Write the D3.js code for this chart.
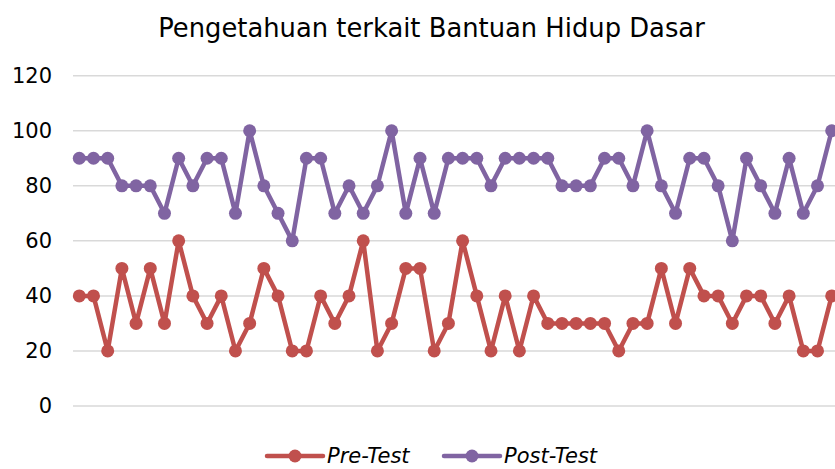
<!DOCTYPE html>
<html>
<head>
<meta charset="utf-8">
<script src="https://cdn.jsdelivr.net/npm/d3@7"></script>
<style>
  body { margin: 0; background: #fff; }
  text { font-family: "DejaVu Sans", sans-serif; fill: #000; }
</style>
</head>
<body>
<div id="chart"></div>
<script>
const title = "Pengetahuan terkait Bantuan Hidup Dasar";
const yTicks = [0, 20, 40, 60, 80, 100, 120];
const seriesNames = ["Pre-Test", "Post-Test"];
const preTest = [40, 40, 20, 50, 30, 50, 30, 60, 40, 30, 40, 20, 30, 50, 40, 20, 20, 40, 30, 40,
  60, 20, 30, 50, 50, 20, 30, 60, 40, 20, 40, 20, 40, 30, 30, 30, 30, 30, 20, 30,
  30, 50, 30, 50, 40, 40, 30, 40, 40, 30, 40, 20, 20, 40];
const postTest = [90, 90, 90, 80, 80, 80, 70, 90, 80, 90, 90, 70, 100, 80, 70, 60, 90, 90, 70, 80,
  70, 80, 100, 70, 90, 70, 90, 90, 90, 80, 90, 90, 90, 90, 80, 80, 80, 90, 90, 80,
  100, 80, 70, 90, 90, 80, 60, 90, 80, 70, 90, 70, 80, 100];

const svgWidth = 835,
  svgHeight = 469,
  colors = ["#C0504D", "#8064A2"];

const svg = d3
  .select("#chart")
  .append("svg")
  .attr("width", svgWidth)
  .attr("height", svgHeight);

const x = d3
  .scaleBand()
  .domain(d3.range(preTest.length))
  .range([72.2, 838.8]);
const y = d3.scaleLinear().domain([0, 120]).range([406, 75.7]);

// title
svg
  .append("text")
  .attr("x", 431.5)
  .attr("y", 37)
  .attr("text-anchor", "middle")
  .style("font-size", "25.8px")
  .text(title);

// gridlines
svg
  .append("g")
  .attr("class", "grid")
  .selectAll("line")
  .data(yTicks)
  .enter()
  .append("line")
  .attr("x1", 73)
  .attr("x2", svgWidth)
  .attr("y1", d => y(d))
  .attr("y2", d => y(d))
  .attr("stroke", "#D9D9D9")
  .attr("stroke-width", 1.5);

// y axis
const yAxis = d3.axisLeft(y).tickValues(yTicks).tickSize(0).tickPadding(0);
const yg = svg
  .append("g")
  .attr("transform", "translate(52,0)")
  .call(yAxis);
yg.select(".domain").remove();
yg.selectAll("text")
  .style("font-size", "21px")
  .style("font-family", "DejaVu Sans, sans-serif")
  .attr("fill", "#000");

const line = d3
  .line()
  .x((d, i) => x(i) + x.bandwidth() / 2)
  .y(d => y(d));

[preTest, postTest].forEach((data, k) => {
  const g = svg.append("g").attr("class", "series");
  g.append("path")
    .datum(data)
    .attr("fill", "none")
    .attr("stroke", colors[k])
    .attr("stroke-width", 4.5)
    .attr("stroke-linejoin", "round")
    .attr("d", line);
  g.selectAll("circle")
    .data(data)
    .enter()
    .append("circle")
    .attr("cx", (d, i) => x(i) + x.bandwidth() / 2)
    .attr("cy", d => y(d))
    .attr("r", 6.5)
    .attr("fill", colors[k]);
});

// legend
const legendX = [267, 444];
const legend = svg
  .append("g")
  .selectAll("g")
  .data(seriesNames)
  .enter()
  .append("g")
  .attr("transform", (d, i) => "translate(" + legendX[i] + ",456)");

legend
  .append("line")
  .attr("x1", 0)
  .attr("x2", 56)
  .attr("stroke", (d, i) => colors[i])
  .attr("stroke-width", 4.5)
  .attr("stroke-linecap", "round");
legend
  .append("circle")
  .attr("cx", 28)
  .attr("r", 6.5)
  .attr("fill", (d, i) => colors[i]);
legend
  .append("text")
  .attr("x", 60)
  .attr("y", 7)
  .style("font-size", "21px")
  .style("font-style", "italic")
  .text(d => d);
</script>
</body>
</html>
